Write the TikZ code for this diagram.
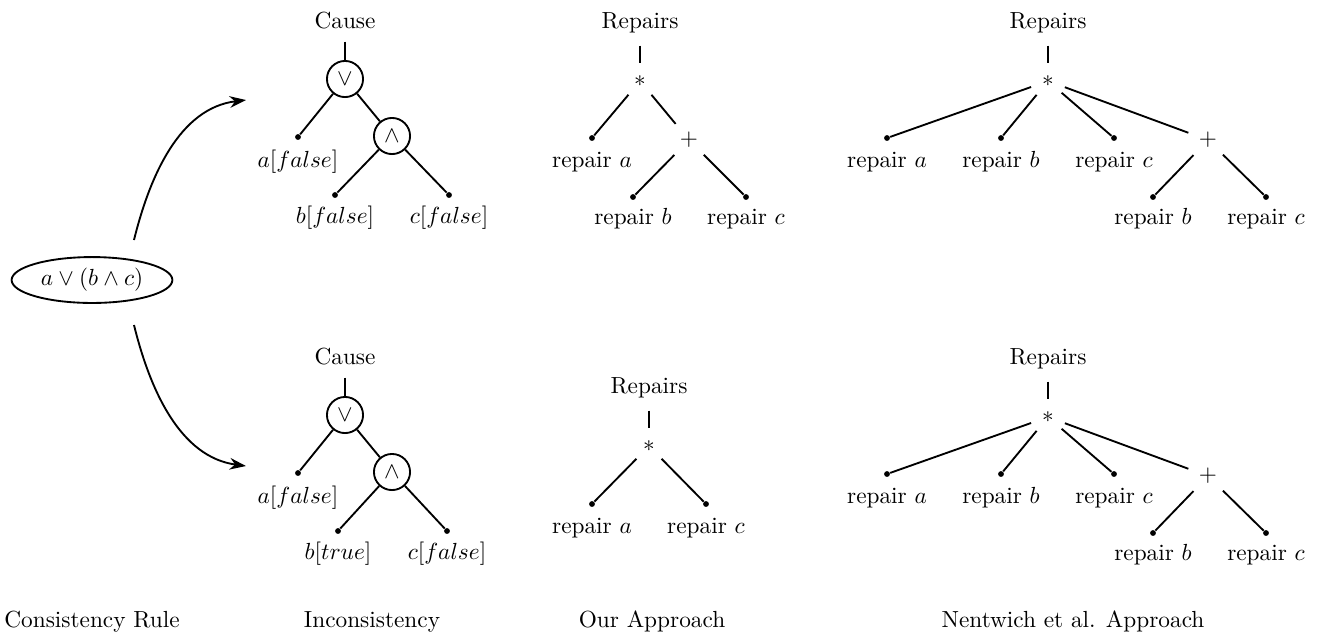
\documentclass[tikz,border=0pt]{standalone}
\usetikzlibrary{shapes.geometric,arrows.meta}
\begin{document}
\begin{tikzpicture}[x=0.4292pt,y=-0.4292pt,
  conn/.style={line width=0.8pt},
  stem/.style={line width=0.8pt,shorten <=5.4pt},
  opnode/.style={circle,draw,line width=0.8pt,minimum size=15.5pt,inner sep=0pt},
  hidop/.style={circle,minimum size=#1,inner sep=0pt},
  leafdot/.style={circle,fill,inner sep=0pt,minimum size=2.5pt},
  leaftext/.style={anchor=base,inner sep=0pt},
  rootlabel/.style={anchor=base,inner sep=0pt},
  caption/.style={anchor=base,inner sep=0pt},
  rule/.style={ellipse,draw,line width=0.8pt,minimum width=69pt,minimum height=19.7pt,inner sep=0pt},
  flow/.style={line width=0.8pt,-{Stealth[length=7pt,width=5pt]}}
]
\useasboundingbox (0,0) rectangle (1317,634);

% consistency rule and the two arrows
\node[rule] (rule) at (92,280) {$a \vee (b \wedge c)$};
\coordinate (upS) at (134,240);
\coordinate (upE) at (246,100);
\coordinate (dnS) at (134,325);
\coordinate (dnE) at (246,466);
\draw[flow] (upS) .. controls (150,175) and (180,108) .. (upE);
\draw[flow] (dnS) .. controls (150,390) and (180,457) .. (dnE);

% ---- inconsistency, upper
\node[rootlabel] (cA) at (345,28) {Cause};
\node[opnode] (cAor) at (345,79) {$\vee$};
\node[leafdot] (cAa) at (298,137) {};
\node[opnode] (cAand) at (392,136) {$\wedge$};
\node[leafdot] (cAb) at (335,195) {};
\node[leafdot] (cAc) at (449,195) {};
\node[leaftext] (cAat) at (298,167) {$a[false]$};
\node[leaftext] (cAbt) at (335,223) {$b[false]$};
\node[leaftext] (cAct) at (449,223) {$c[false]$};
\draw[stem] (cA) -- (cAor);
\draw[conn] (cAor) -- (cAa);
\draw[conn] (cAor) -- (cAand);
\draw[conn] (cAand) -- (cAb);
\draw[conn] (cAand) -- (cAc);

% ---- inconsistency, lower
\node[rootlabel] (cB) at (345,364) {Cause};
\node[opnode] (cBor) at (345,415) {$\vee$};
\node[leafdot] (cBa) at (298,473) {};
\node[opnode] (cBand) at (392,472) {$\wedge$};
\node[leafdot] (cBb) at (338,531) {};
\node[leafdot] (cBc) at (447,531) {};
\node[leaftext] (cBat) at (298,503) {$a[false]$};
\node[leaftext] (cBbt) at (338,559) {$b[true]$};
\node[leaftext] (cBct) at (447,559) {$c[false]$};
\draw[stem] (cB) -- (cBor);
\draw[conn] (cBor) -- (cBa);
\draw[conn] (cBor) -- (cBand);
\draw[conn] (cBand) -- (cBb);
\draw[conn] (cBand) -- (cBc);

% ---- our approach, upper
\node[rootlabel] (oA) at (640,28) {Repairs};
\node[hidop=15pt] (oAst) at (640,81) {$*$};
\node[leafdot] (oAa) at (592,138) {};
\node[hidop=17.6pt] (oApl) at (689,140) {$+$};
\node[leafdot] (oAb) at (633,197) {};
\node[leafdot] (oAc) at (746,197) {};
\node[leaftext] (oAat) at (592,167) {repair $a$};
\node[leaftext] (oAbt) at (633,224) {repair $b$};
\node[leaftext] (oAct) at (746,224) {repair $c$};
\draw[stem] (oA) -- (oAst);
\draw[conn] (oAst) -- (oAa);
\draw[conn] (oAst) -- (oApl);
\draw[conn] (oApl) -- (oAb);
\draw[conn] (oApl) -- (oAc);

% ---- our approach, lower
\node[rootlabel] (oB) at (649,393) {Repairs};
\node[hidop=15pt] (oBst) at (649,446) {$*$};
\node[leafdot] (oBa) at (592,504) {};
\node[leafdot] (oBc) at (706,504) {};
\node[leaftext] (oBat) at (592,533) {repair $a$};
\node[leaftext] (oBct) at (706,533) {repair $c$};
\draw[stem] (oB) -- (oBst);
\draw[conn] (oBst) -- (oBa);
\draw[conn] (oBst) -- (oBc);

% ---- Nentwich et al., upper
\node[rootlabel] (nA) at (1048,28) {Repairs};
\node[hidop=15pt] (nAst) at (1048,81) {$*$};
\node[leafdot] (nAa) at (887,138) {};
\node[leafdot] (nAb) at (1001,138) {};
\node[leafdot] (nAc) at (1114,138) {};
\node[hidop=17.6pt] (nApl) at (1208,140) {$+$};
\node[leafdot] (nAb2) at (1153,197) {};
\node[leafdot] (nAc2) at (1266,197) {};
\node[leaftext] (nAat) at (887,167) {repair $a$};
\node[leaftext] (nAbt) at (1001,167) {repair $b$};
\node[leaftext] (nAct) at (1114,167) {repair $c$};
\node[leaftext] (nAb2t) at (1153,224) {repair $b$};
\node[leaftext] (nAc2t) at (1266,224) {repair $c$};
\draw[stem] (nA) -- (nAst);
\draw[conn] (nAst) -- (nAa);
\draw[conn] (nAst) -- (nAb);
\draw[conn] (nAst) -- (nAc);
\draw[conn] (nAst) -- (nApl);
\draw[conn] (nApl) -- (nAb2);
\draw[conn] (nApl) -- (nAc2);

% ---- Nentwich et al., lower
\node[rootlabel] (nB) at (1048,364) {Repairs};
\node[hidop=15pt] (nBst) at (1048,417) {$*$};
\node[leafdot] (nBa) at (887,474) {};
\node[leafdot] (nBb) at (1001,474) {};
\node[leafdot] (nBc) at (1114,474) {};
\node[hidop=17.6pt] (nBpl) at (1208,476) {$+$};
\node[leafdot] (nBb2) at (1153,533) {};
\node[leafdot] (nBc2) at (1266,533) {};
\node[leaftext] (nBat) at (887,503) {repair $a$};
\node[leaftext] (nBbt) at (1001,503) {repair $b$};
\node[leaftext] (nBct) at (1114,503) {repair $c$};
\node[leaftext] (nBb2t) at (1153,560) {repair $b$};
\node[leaftext] (nBc2t) at (1266,560) {repair $c$};
\draw[stem] (nB) -- (nBst);
\draw[conn] (nBst) -- (nBa);
\draw[conn] (nBst) -- (nBb);
\draw[conn] (nBst) -- (nBc);
\draw[conn] (nBst) -- (nBpl);
\draw[conn] (nBpl) -- (nBb2);
\draw[conn] (nBpl) -- (nBc2);

% ---- column captions
\node[caption] (capRule) at (92,627) {Consistency Rule};
\node[caption] (capInc) at (372,627) {Inconsistency};
\node[caption] (capOur) at (652,627) {Our Approach};
\node[caption] (capNen) at (1073,627) {Nentwich et al. Approach};
\end{tikzpicture}
\end{document}
